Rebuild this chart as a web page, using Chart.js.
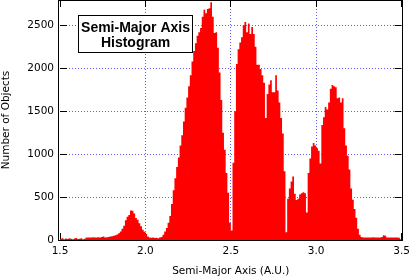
<!DOCTYPE html>
<html>
<head>
<meta charset="utf-8">
<script src="https://cdn.jsdelivr.net/npm/chart.js@4/dist/chart.umd.min.js"></script>
<style>
html, body { margin: 0; padding: 0; background: #fff; }
canvas { display: block; }
</style>
</head>
<body>
<canvas id="chart" width="409" height="278"></canvas>
<script>
const BIN_START = 1.5;
const BIN_WIDTH = 0.01;
// objects per 0.01 AU bin, 1.50 .. 3.49
const counts = [
  15, 20, 10, 18, 12, 20, 15, 10, 18, 22,
  12, 15, 20, 10, 15, 30, 28, 30, 30, 32,
  30, 30, 32, 30, 35, 40, 30, 32, 35, 40,
  45, 50, 55, 65, 80, 100, 130, 165, 230, 270,
  290, 345, 340, 310, 255, 235, 195, 160, 120, 95,
  70, 40, 30, 25, 30, 22, 25, 20, 28, 35,
  60, 100, 140, 200, 280, 420, 580, 720, 850, 960,
  1100, 1220, 1380, 1540, 1660, 1790, 1920, 2080, 2200, 2290,
  2380, 2420, 2470, 2600, 2680, 2640, 2690, 2700, 2770, 2600,
  2410, 2420, 2240, 1950, 1630, 1250, 1050, 780, 550, 200,
  110, 900, 1500, 2050, 2220, 2300, 2360, 2500, 2540, 2420,
  2520, 2400, 2480, 2400, 2250, 2040, 2040, 1990, 1920, 1830,
  1420, 1700, 1810, 1860, 1720, 1720, 1920, 1740, 1600, 1420,
  1240, 800, 90, 480, 600, 680, 740, 540, 465, 480,
  530, 545, 555, 545, 320, 780, 950, 1090, 1130, 1100,
  1070, 1040, 890, 1340, 1430, 1550, 1520, 1600, 1760, 1805,
  1790, 1780, 1650, 1660, 1600, 1650, 1300, 1100, 980, 820,
  600, 470, 360, 260, 130, 60, 35, 30, 28, 30,
  30, 28, 30, 32, 30, 30, 28, 30, 35, 55,
  50, 30, 30, 28, 30, 28, 30, 30, 25, 10
];
const xTicks = [1.5, 2.0, 2.5, 3.0, 3.5];
const yTicks = [0, 500, 1000, 1500, 2000, 2500];
const titleLines = ["Semi-Major Axis", "Histogram"];
const xTitle = "Semi-Major Axis (A.U.)";
const yTitle = "Number of Objects";

const binEdges = counts.map((_, i) => +(BIN_START + i * BIN_WIDTH).toFixed(2));
const points = binEdges.map((x, i) => ({ x, y: counts[i] }));
points.push({ x: +(BIN_START + counts.length * BIN_WIDTH).toFixed(2), y: counts[counts.length - 1] });

const labelFont = { family: "DejaVu Sans", size: 10.5 };
const gridBlue = "#5c5cff";

function crisp(v) {
  return Math.round(v - 0.5) + 0.5;
}

const ticksPlugin = {
  id: "innerTicks",
  beforeDatasetsDraw(chart) {
    const { ctx, chartArea: a, scales: { x, y } } = chart;
    ctx.save();
    ctx.strokeStyle = "#000";
    ctx.lineWidth = 1;
    ctx.beginPath();
    xTicks.forEach((v) => {
      const px = crisp(x.getPixelForValue(v));
      ctx.moveTo(px, a.top); ctx.lineTo(px, a.top + 7);
      ctx.moveTo(px, a.bottom); ctx.lineTo(px, a.bottom - 7);
    });
    yTicks.forEach((v) => {
      const py = crisp(y.getPixelForValue(v));
      ctx.moveTo(a.left, py); ctx.lineTo(a.left + 7, py);
      ctx.moveTo(a.right, py); ctx.lineTo(a.right - 7, py);
    });
    ctx.stroke();
    ctx.restore();
  },
  afterDatasetsDraw(chart) {
    const { ctx, chartArea: a } = chart;
    ctx.save();
    ctx.strokeStyle = "#000";
    ctx.lineWidth = 1;
    const l = Math.round(a.left) - 1.5, r = Math.round(a.right) + 0.5;
    const t = a.top + 0.5, b = Math.round(a.bottom) + 0.5;
    ctx.strokeRect(l, t, r - l, b - t);
    // title box
    const bx = 78.5, by = 15.5, bw = 114, bh = 37;
    ctx.fillStyle = "#fff";
    ctx.fillRect(bx, by, bw, bh);
    ctx.strokeRect(bx, by, bw, bh);
    ctx.fillStyle = "#000";
    ctx.font = "bold 14px 'Liberation Sans', Arial, sans-serif";
    ctx.textAlign = "center";
    ctx.textBaseline = "alphabetic";
    ctx.fillText(titleLines[0], bx + bw / 2, by + 16);
    ctx.fillText(titleLines[1], bx + bw / 2, by + 31);
    ctx.restore();
  }
};

new Chart(document.querySelector("#chart"), {
  type: "line",
  data: {
    datasets: [{
      data: points,
      stepped: "before",
      fill: "origin",
      backgroundColor: "#ff0000",
      borderColor: "transparent",
      borderWidth: 0,
      pointRadius: 0,
      tension: 0
    }]
  },
  options: {
    responsive: false,
    animation: false,
    events: [],
    layout: { padding: { left: 0, right: 7.4, top: 0, bottom: 0 } },
    plugins: { legend: { display: false }, tooltip: { enabled: false } },
    scales: {
      x: {
        type: "linear",
        min: 1.5,
        max: 3.5,
        afterBuildTicks: (s) => { s.ticks = xTicks.map((value) => ({ value })); },
        afterFit: (s) => { s.height = 38; s.paddingLeft = 0; s.paddingRight = 0; },
        ticks: { callback: (v) => v.toFixed(1), font: labelFont, color: "#000", padding: 5, maxRotation: 0, autoSkip: false },
        grid: { color: (c) => (c.tick && c.tick.value > 1.5 && c.tick.value < 3.5 ? gridBlue : "transparent"), drawTicks: false, lineWidth: 1 },
        border: { display: false, dash: [1, 2] },
        title: { display: true, text: xTitle, font: labelFont, color: "#000", padding: 0 }
      },
      y: {
        min: 0,
        max: 2795,
        afterBuildTicks: (s) => { s.ticks = yTicks.map((value) => ({ value })); },
        afterFit: (s) => { s.width = 60; s.paddingTop = 0; s.paddingBottom = 0; },
        ticks: { callback: (v) => String(v), font: labelFont, color: "#000", padding: 6 },
        grid: { color: (c) => (c.tick && c.tick.value > 0 ? gridBlue : "transparent"), drawTicks: false, lineWidth: 1 },
        border: { display: false, dash: [1, 2] },
        title: { display: true, text: yTitle, font: labelFont, color: "#000", padding: 0 }
      }
    }
  },
  plugins: [ticksPlugin]
});
</script>
</body>
</html>
